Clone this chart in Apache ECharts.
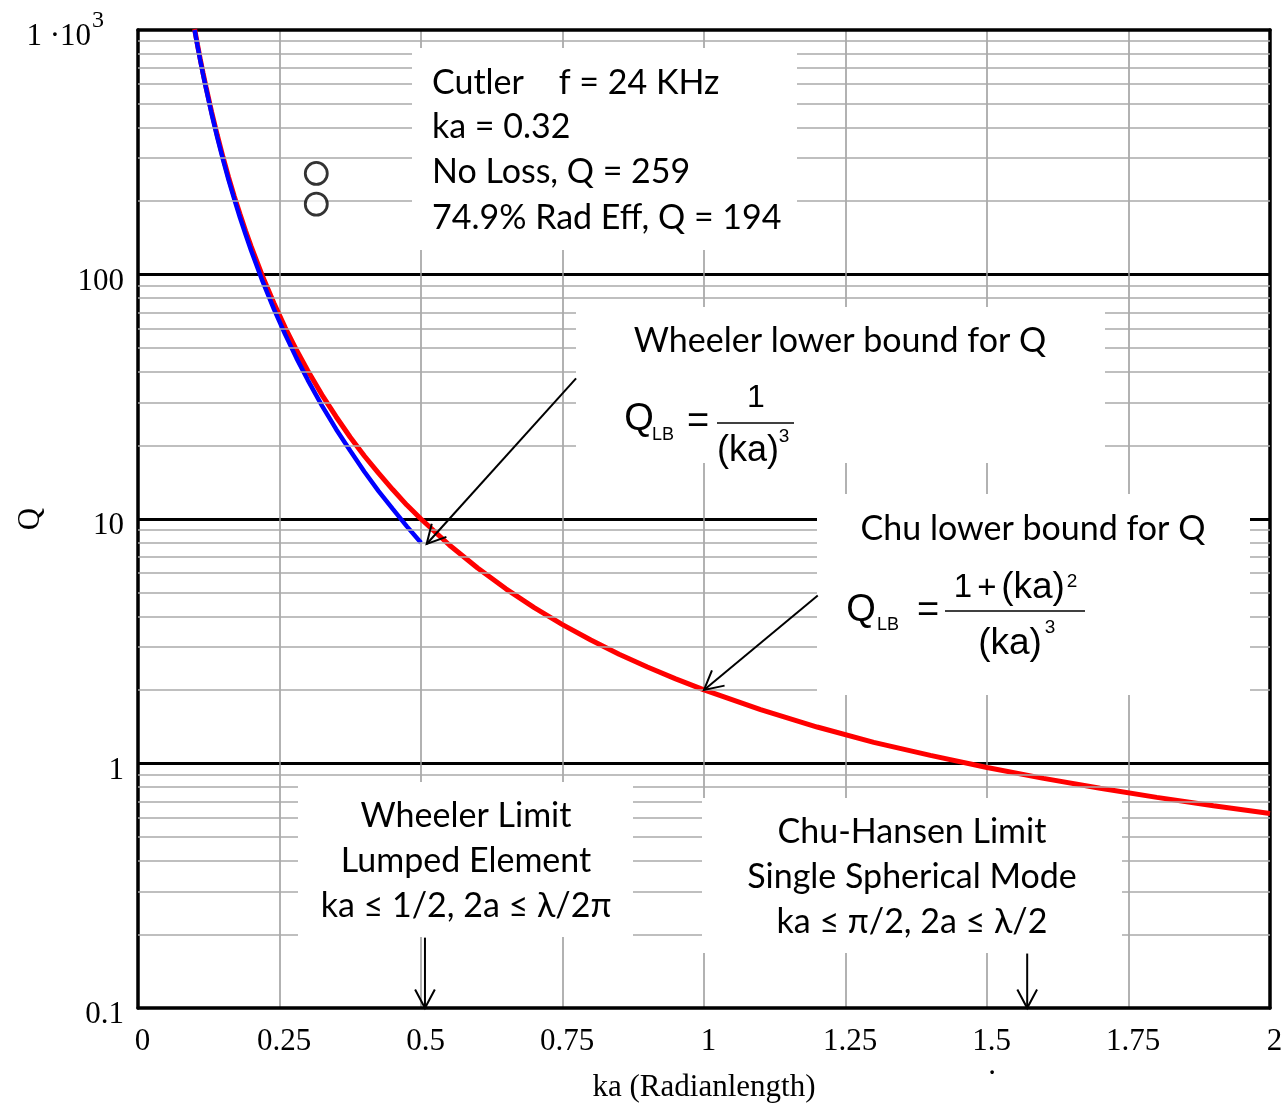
<!DOCTYPE html>
<html>
<head>
<meta charset="utf-8">
<script src="https://cdn.jsdelivr.net/npm/echarts@6/dist/echarts.min.js"></script>
<style>
  html, body { margin: 0; padding: 0; background: #fff; }
  #chart { width: 1288px; height: 1104px; }
</style>
</head>
<body>
<div id="chart"></div>
<script>
// Chu lower bound (red)
const chuKa = [0.10, 0.105, 0.11, 0.115, 0.12, 0.13, 0.14, 0.15, 0.16, 0.17, 0.18, 0.19, 0.20, 0.22, 0.24, 0.26, 0.28, 0.30, 0.325, 0.35, 0.375, 0.40, 0.425, 0.45, 0.475, 0.50, 0.55, 0.60, 0.65, 0.70, 0.75, 0.80, 0.85, 0.90, 0.95, 1.00, 1.10, 1.20, 1.30, 1.40, 1.50, 1.60, 1.70, 1.80, 1.90, 2.00];
const chuQ = [1010, 873, 760, 666, 587, 463, 372, 303, 250, 209, 177, 151, 130, 98.5, 76.5, 60.7, 49.1, 40.4, 32.2, 26.2, 21.6, 18.1, 15.4, 13.2, 11.4, 10.0, 7.83, 6.30, 5.18, 4.34, 3.70, 3.20, 2.80, 2.48, 2.22, 2.00, 1.66, 1.41, 1.22, 1.08, 0.963, 0.869, 0.792, 0.727, 0.672, 0.625];
// Wheeler lower bound (blue)
const wheelerKa = [0.10, 0.105, 0.11, 0.115, 0.12, 0.13, 0.14, 0.15, 0.16, 0.17, 0.18, 0.19, 0.20, 0.22, 0.24, 0.26, 0.28, 0.30, 0.325, 0.35, 0.375, 0.40, 0.425, 0.45, 0.475, 0.50];
const wheelerQ = [1000, 864, 751, 657, 579, 455, 364, 296, 244, 204, 171.5, 146, 125, 93.9, 72.3, 56.9, 45.5, 37.0, 29.1, 23.3, 19.0, 15.6, 13.0, 11.0, 9.33, 8.0];
// Cutler points
const cutlerKa = [0.315, 0.315];
const cutlerQ = [259, 194];
// axis labels / minor grid
const yLabels = ['0.1', '1', '10', '100', '{a|1 ·10}{s|3}'];
const minorGridQ = [0.2, 0.3, 0.4, 0.5, 0.6, 0.7, 0.8, 0.9, 2, 3, 4, 5, 6, 7, 8, 9, 20, 30, 40, 50, 60, 70, 80, 90, 200, 300, 400, 500, 600, 700, 800, 900];
// arrows in data coordinates [ka, Q]
const arrowFrom = [[0.774, 37.6], [1.201, 4.87], [0.507, 0.194], [1.571, 0.167]];
const arrowTo = [[0.51, 7.9], [1.0, 2.0], [0.507, 0.1], [1.571, 0.1]];

const serif = 'Liberation Serif';
const sans = 'Lato';
const mathFont = 'Liberation Sans';

const chart = echarts.init(document.getElementById('chart'));

const option = {
  backgroundColor: '#fff',
  animation: false,
  grid: { left: 138, right: 18, top: 30, bottom: 96, outerBoundsMode: 'none' },
  xAxis: [
    {
      type: 'value', min: 0, max: 2, interval: 0.25,
      name: 'ka (Radianlength)', nameLocation: 'middle', nameGap: 64, nameMoveOverlap: false,
      nameTextStyle: { fontFamily: serif, fontSize: 31, color: '#000' },
      axisLine: { lineStyle: { color: '#000', width: 3.5 } },
      axisTick: { show: false },
      axisLabel: { fontFamily: serif, fontSize: 31, color: '#000', margin: 18, padding: [0, 0, 0, 9] },
      splitLine: { show: true, showMinLine: false, showMaxLine: false, lineStyle: { color: '#999', width: 1.5 } }
    },
    {
      type: 'value', min: 0, max: 2, position: 'top',
      axisLine: { onZero: false, lineStyle: { color: '#000', width: 3.5 } },
      axisTick: { show: false }, axisLabel: { show: false }, splitLine: { show: false }
    }
  ],
  yAxis: [
    {
      type: 'log', logBase: 10, min: 0.1, max: 1000,
      name: 'Q', nameLocation: 'middle', nameGap: 92, nameMoveOverlap: false,
      nameTextStyle: { fontFamily: serif, fontSize: 31, color: '#000' },
      axisLine: { lineStyle: { color: '#000', width: 3.5 } },
      axisTick: { show: false },
      axisLabel: {
        fontFamily: serif, fontSize: 31, color: '#000', margin: 14, padding: [14, 0, 0, 0],
        formatter: function (v) { return yLabels[Math.round(Math.log10(v)) + 1]; },
        rich: {
          a: { fontFamily: serif, fontSize: 31, color: '#000', lineHeight: 56, verticalAlign: 'middle' },
          s: { fontFamily: serif, fontSize: 24, color: '#000', lineHeight: 24, verticalAlign: 'top', padding: [0, 20, 0, 1] }
        }
      },
      splitLine: { show: true, showMinLine: false, showMaxLine: false, lineStyle: { color: '#000', width: 3 } }
    },
    {
      type: 'log', logBase: 10, min: 0.1, max: 1000, position: 'right',
      axisLine: { onZero: false, lineStyle: { color: '#000', width: 3.5 } },
      axisTick: { show: false }, axisLabel: { show: false }, splitLine: { show: false }
    }
  ],
  series: [
    {
      name: 'minor grid', type: 'line', z: 1, silent: true, showSymbol: false,
      data: [[0, 0.1]],
      markLine: {
        silent: true, symbol: ['none', 'none'], animation: false,
        label: { show: false },
        lineStyle: { color: '#aaa', width: 1.5, type: 'solid' },
        emphasis: { disabled: true },
        data: minorGridQ.map(function (q) { return { yAxis: q }; })
      }
    },
    {
      name: 'Chu', type: 'line', z: 3, showSymbol: false, silent: true,
      lineStyle: { color: '#ff0000', width: 5 },
      data: chuKa.map(function (k, i) { return [k, chuQ[i]]; })
    },
    {
      name: 'Wheeler', type: 'line', z: 4, showSymbol: false, silent: true,
      lineStyle: { color: '#0000ff', width: 4.5 },
      data: wheelerKa.map(function (k, i) { return [k, wheelerQ[i]]; })
    },
    {
      name: 'Cutler', type: 'scatter', z: 5, silent: true,
      symbol: 'circle', symbolSize: 22,
      itemStyle: { color: '#fff', borderColor: '#000', borderWidth: 2.8 },
      data: cutlerKa.map(function (k, i) { return [k, cutlerQ[i]]; })
    }
  ]
};

chart.setOption(option);

// annotation boxes (pixel layout)
const boxes = [
  { x: 412, y: 48, w: 385, h: 202 },
  { x: 576, y: 307, w: 529, h: 156 },
  { x: 817, y: 494, w: 433, h: 201 },
  { x: 298, y: 782, w: 335, h: 155 },
  { x: 702, y: 798, w: 420, h: 155 }
];
const boxTexts = [
  { t: 'Cutler    f = 24 KHz', x: 432, y: 83, align: 'left' },
  { t: 'ka = 0.32', x: 432, y: 127, align: 'left' },
  { t: 'No Loss, Q = 259', x: 432, y: 172, align: 'left' },
  { t: '74.9% Rad Eff, Q = 194', x: 432, y: 218, align: 'left' },
  { t: 'Wheeler lower bound for Q', x: 840, y: 341, align: 'center' },
  { t: 'Chu lower bound for Q', x: 1033, y: 529, align: 'center' },
  { t: 'Wheeler Limit', x: 466, y: 816, align: 'center' },
  { t: 'Lumped Element', x: 466, y: 861, align: 'center' },
  { t: 'ka ≤ 1/2, 2a ≤ λ/2π', x: 466, y: 906, align: 'center' },
  { t: 'Chu-Hansen Limit', x: 912, y: 832, align: 'center' },
  { t: 'Single Spherical Mode', x: 912, y: 877, align: 'center' },
  { t: 'ka ≤ π/2, 2a ≤ λ/2', x: 912, y: 922, align: 'center' }
];
const formulaTexts = [
  // Wheeler formula
  { t: 'Q', x: 639, y: 420, s: 38 },
  { t: 'LB', x: 663, y: 435, s: 18 },
  { t: '=', x: 698, y: 423, s: 38 },
  { t: '1', x: 756, y: 398, s: 32 },
  { t: '(ka)', x: 748, y: 451, s: 36 },
  { t: '3', x: 784, y: 437, s: 19 },
  // Chu formula
  { t: 'Q', x: 861, y: 611, s: 38 },
  { t: 'LB', x: 888, y: 625, s: 18 },
  { t: '=', x: 928, y: 612, s: 38 },
  { t: '1', x: 963, y: 588, s: 33 },
  { t: '+', x: 987, y: 589, s: 33 },
  { t: '(ka)', x: 1033, y: 588, s: 37 },
  { t: '2', x: 1072, y: 582, s: 19 },
  { t: '(ka)', x: 1010, y: 644, s: 37 },
  { t: '3', x: 1050, y: 628, s: 19 }
];
const fractionBars = [[717, 794, 423], [945, 1085, 611]];

function buildGraphic() {
  const els = [];
  boxes.forEach(function (b) {
    els.push({ type: 'rect', z: 100, silent: true, shape: { x: b.x, y: b.y, width: b.w, height: b.h }, style: { fill: '#fff' } });
  });
  boxTexts.forEach(function (d) {
    els.push({ type: 'text', z: 101, silent: true, style: { text: d.t, x: d.x, y: d.y, fill: '#000', fontFamily: sans, fontSize: 34, align: d.align, verticalAlign: 'middle' } });
  });
  formulaTexts.forEach(function (d) {
    els.push({ type: 'text', z: 101, silent: true, style: { text: d.t, x: d.x, y: d.y, fill: '#000', fontFamily: mathFont, fontSize: d.s, align: 'center', verticalAlign: 'middle' } });
  });
  fractionBars.forEach(function (b) {
    els.push({ type: 'line', z: 101, silent: true, shape: { x1: b[0], y1: b[2], x2: b[1], y2: b[2] }, style: { stroke: '#000', lineWidth: 1.5 } });
  });
  els.push({ type: 'text', z: 101, silent: true, style: { text: '.', x: 992, y: 1066, fill: '#000', fontFamily: serif, fontSize: 31, align: 'center', verticalAlign: 'middle' } });
  arrowFrom.forEach(function (f, i) {
    const p0 = chart.convertToPixel({ seriesIndex: 1 }, f);
    const p1 = chart.convertToPixel({ seriesIndex: 1 }, arrowTo[i]);
    const dx = p0[0] - p1[0], dy = p0[1] - p1[1];
    const len = Math.sqrt(dx * dx + dy * dy);
    const ux = dx / len, uy = dy / len;
    const a = 28 * Math.PI / 180, hl = 21;
    const h1 = [p1[0] + hl * (ux * Math.cos(a) - uy * Math.sin(a)), p1[1] + hl * (ux * Math.sin(a) + uy * Math.cos(a))];
    const h2 = [p1[0] + hl * (ux * Math.cos(a) + uy * Math.sin(a)), p1[1] + hl * (-ux * Math.sin(a) + uy * Math.cos(a))];
    els.push({ type: 'line', z: 102, silent: true, shape: { x1: p0[0], y1: p0[1], x2: p1[0], y2: p1[1] }, style: { stroke: '#000', lineWidth: 2 } });
    els.push({ type: 'polyline', z: 102, silent: true, shape: { points: [h1, p1, h2] }, style: { stroke: '#000', lineWidth: 2, fill: null } });
  });
  chart.setOption({ graphic: els });
}
buildGraphic();
</script>
</body>
</html>
